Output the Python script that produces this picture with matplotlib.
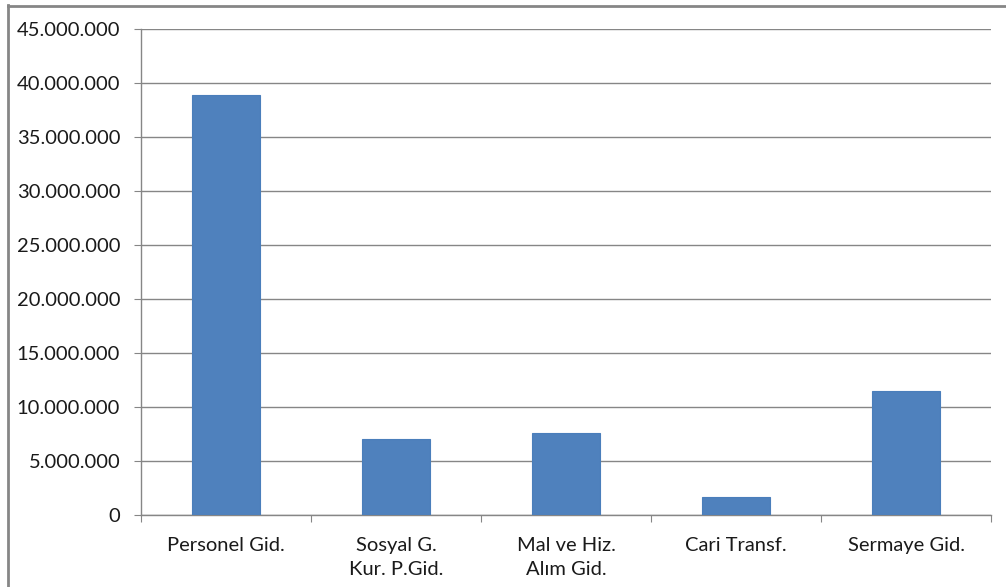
import matplotlib
matplotlib.use("Agg")
import matplotlib.pyplot as plt
from matplotlib.lines import Line2D
from matplotlib.ticker import FuncFormatter, MultipleLocator

categories = ["Personel Gid.", "Sosyal G.\nKur. P.Gid.", "Mal ve Hiz.\nAlım Gid.",
              "Cari Transf.", "Sermaye Gid."]
values = [38900000, 7060000, 7560000, 1690000, 11500000]

plt.rcParams['font.family'] = ['Lato', 'DejaVu Sans']

W, H = 1006, 587
fig = plt.figure(figsize=(W / 100, H / 100), dpi=100)
ax = fig.add_axes([141 / W, 1 - 515 / H, (991 - 141) / W, (515 - 29) / H])

grid_c = "#868686"
x = list(range(len(categories)))
ax.bar(x, values, width=0.4, color="#4F81BD", edgecolor="#4A7EBB", linewidth=0.8, zorder=3)

ax.set_xlim(-0.5, len(categories) - 0.5)
ax.set_ylim(0, 45000000)
ax.yaxis.set_major_locator(MultipleLocator(5000000))
ax.yaxis.set_major_formatter(FuncFormatter(lambda v, p: f"{int(v):,}".replace(",", ".")))
ax.grid(axis="y", color=grid_c, linewidth=1.0, zorder=0)

for s in ["top", "right"]:
    ax.spines[s].set_visible(False)
for s in ["left", "bottom"]:
    ax.spines[s].set_color(grid_c)
    ax.spines[s].set_linewidth(1.0)

ax.set_xticks([i - 0.5 for i in range(len(categories) + 1)])
ax.set_xticklabels([])
ax.set_xticks(x, minor=True)
ax.set_xticklabels(categories, minor=True, fontsize=14.5, color="#1a1a1a", linespacing=1.45,
                   va="top")
ax.tick_params(axis="x", which="minor", length=0, pad=16)
ax.tick_params(axis="x", which="major", length=5, color=grid_c)
ax.tick_params(axis="y", length=5, color=grid_c, labelsize=14.5, labelcolor="#1a1a1a", pad=10)

# chart area border (left and top visible)
fig.add_artist(Line2D([7.5 / W, 7.5 / W], [0, 1 - 5 / H], transform=fig.transFigure,
                      color=grid_c, linewidth=2))
fig.add_artist(Line2D([7.5 / W, 1], [1 - 5.5 / H, 1 - 5.5 / H], transform=fig.transFigure,
                      color=grid_c, linewidth=2))

fig.savefig("out.png", dpi=100)
